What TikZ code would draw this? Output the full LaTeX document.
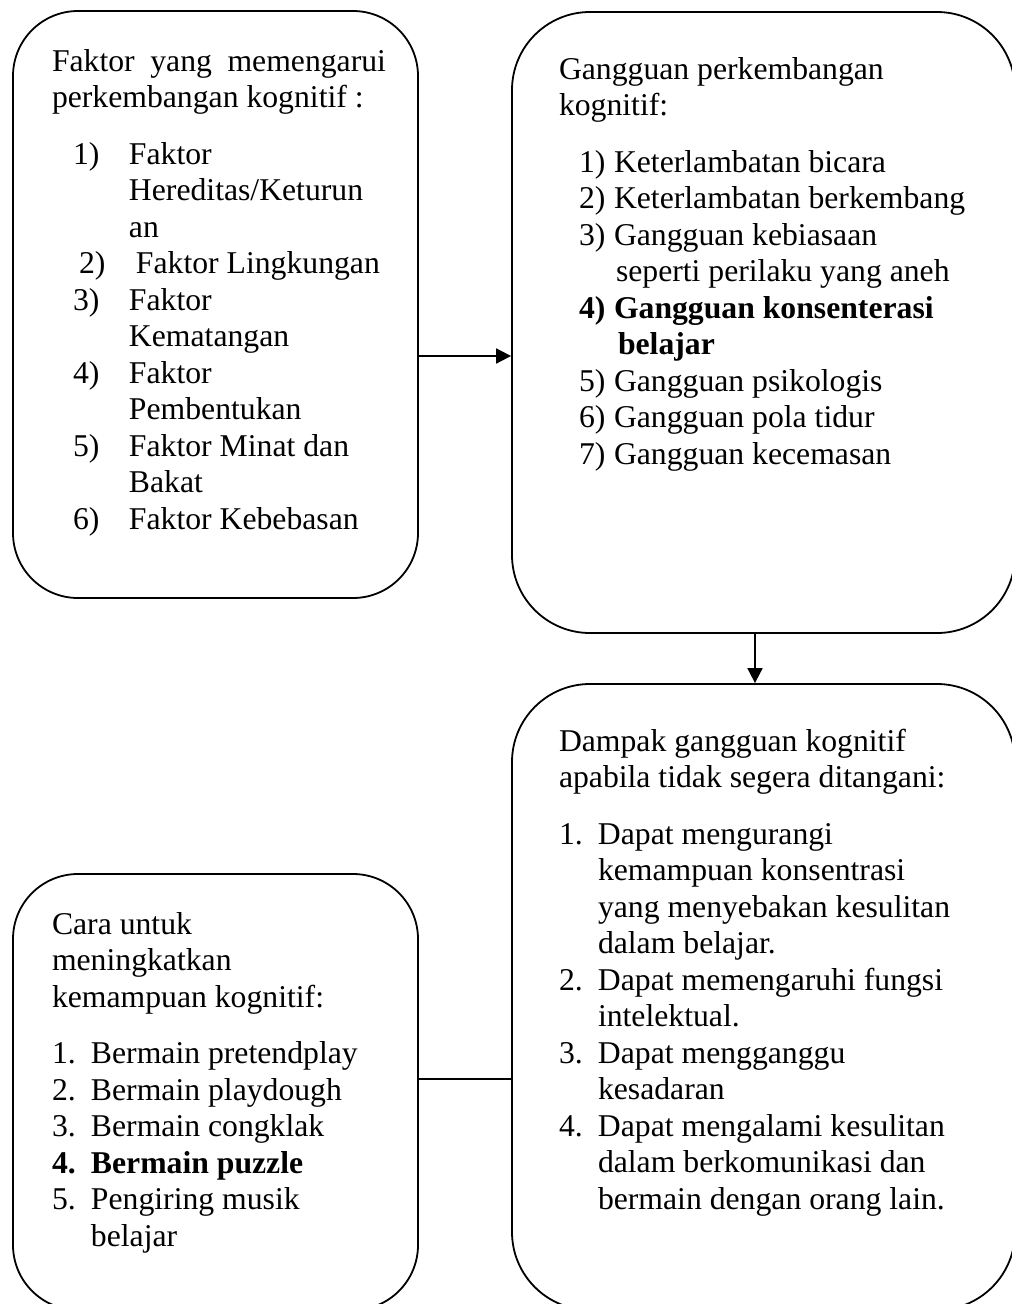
\documentclass[tikz,border=0pt]{standalone}
\usepackage{fontspec}
\setmainfont{Liberation Serif}
\usetikzlibrary{arrows.meta,positioning}

\newcommand{\numitem}[3]{\hspace*{#1}\makebox[#2][l]{#3}}
\newcommand{\topline}{\rule{0pt}{25pt}}

\begin{document}
\begin{tikzpicture}[x=1pt, y=-1pt, line width=1.8pt, >={Triangle[length=15pt,width=15pt]},
   box/.style={draw, rounded corners=#1, inner sep=0pt},
   txt/.style={align=left, inner sep=0pt,
      font=\fontsize{31.7pt}{36.5pt}\selectfont}]
   \useasboundingbox (0,0) rectangle (1012,1304);
   % the four boxes
   \node (faktor) at (215.5,304.5) [box=65pt, minimum width=405pt, minimum height=587pt] {};
   \node (gangguan) at (763.5,322.5) [box=78pt, minimum width=503pt, minimum height=621pt] {};
   \node (dampak) at (763.5,997) [box=78pt, minimum width=503pt, minimum height=626pt] {};
   \node (cara) at (215.5,1092) [box=65pt, minimum width=405pt, minimum height=436pt] {};
   % texts
   \node (faktortxt) [txt, below right=35pt and 39pt of faktor.north west] {%
      \topline\makebox[334pt][s]{Faktor yang memengarui}\\
      perkembangan kognitif :\\[20pt]
      \numitem{21pt}{56pt}{1)}Faktor\\
      \hspace*{77pt}Hereditas/Keturun\\
      \hspace*{77pt}an\\
      \numitem{27pt}{57pt}{2)}Faktor Lingkungan\\
      \numitem{21pt}{56pt}{3)}Faktor\\
      \hspace*{77pt}Kematangan\\
      \numitem{21pt}{56pt}{4)}Faktor\\
      \hspace*{77pt}Pembentukan\\
      \numitem{21pt}{56pt}{5)}Faktor Minat dan\\
      \hspace*{77pt}Bakat\\
      \numitem{21pt}{56pt}{6)}Faktor Kebebasan};
   \node (gangguantxt) [txt, below right=42pt and 47pt of gangguan.north west] {%
      \topline Gangguan perkembangan\\
      kognitif:\\[20pt]
      \numitem{20pt}{35pt}{1)}Keterlambatan bicara\\
      \numitem{20pt}{35pt}{2)}Keterlambatan berkembang\\
      \numitem{20pt}{35pt}{3)}Gangguan kebiasaan\\
      \hspace*{57pt}seperti perilaku yang aneh\\
      \bfseries\numitem{20pt}{35pt}{4)}Gangguan konsenterasi\\
      \bfseries\hspace*{59pt}belajar\\
      \numitem{20pt}{35pt}{5)}Gangguan psikologis\\
      \numitem{20pt}{35pt}{6)}Gangguan pola tidur\\
      \numitem{20pt}{35pt}{7)}Gangguan kecemasan};
   \node (dampaktxt) [txt, below right=42pt and 47pt of dampak.north west] {%
      \topline Dampak gangguan kognitif\\
      apabila tidak segera ditangani:\\[20pt]
      \numitem{0pt}{39pt}{1.}Dapat mengurangi\\
      \hspace*{39pt}kemampuan konsentrasi\\
      \hspace*{39pt}yang menyebakan kesulitan\\
      \hspace*{39pt}dalam belajar.\\
      \numitem{0pt}{39pt}{2.}Dapat memengaruhi fungsi\\
      \hspace*{39pt}intelektual.\\
      \numitem{0pt}{39pt}{3.}Dapat mengganggu\\
      \hspace*{39pt}kesadaran\\
      \numitem{0pt}{39pt}{4.}Dapat mengalami kesulitan\\
      \hspace*{39pt}dalam berkomunikasi dan\\
      \hspace*{39pt}bermain dengan orang lain.};
   \node (caratxt) [txt, below right=35pt and 39pt of cara.north west] {%
      \topline Cara untuk\\
      meningkatkan\\
      kemampuan kognitif:\\[20pt]
      \numitem{0pt}{39pt}{1.}Bermain pretendplay\\
      \numitem{0pt}{39pt}{2.}Bermain playdough\\
      \numitem{0pt}{39pt}{3.}Bermain congklak\\
      \bfseries\numitem{0pt}{39pt}{4.}Bermain puzzle\\
      \numitem{0pt}{39pt}{5.}Pengiring musik\\
      \hspace*{39pt}belajar};
   % connectors
   \draw[->] ([yshift=-51.5pt]faktor.east) -- ([yshift=-51.5pt]faktor.east -| gangguan.west);
   \draw[->] ([xshift=-8.5pt]gangguan.south) -- ([xshift=-8.5pt]gangguan.south |- dampak.north);
   \draw ([yshift=13pt]cara.east) -- ([yshift=13pt]cara.east -| dampak.west);
\end{tikzpicture}
\end{document}
